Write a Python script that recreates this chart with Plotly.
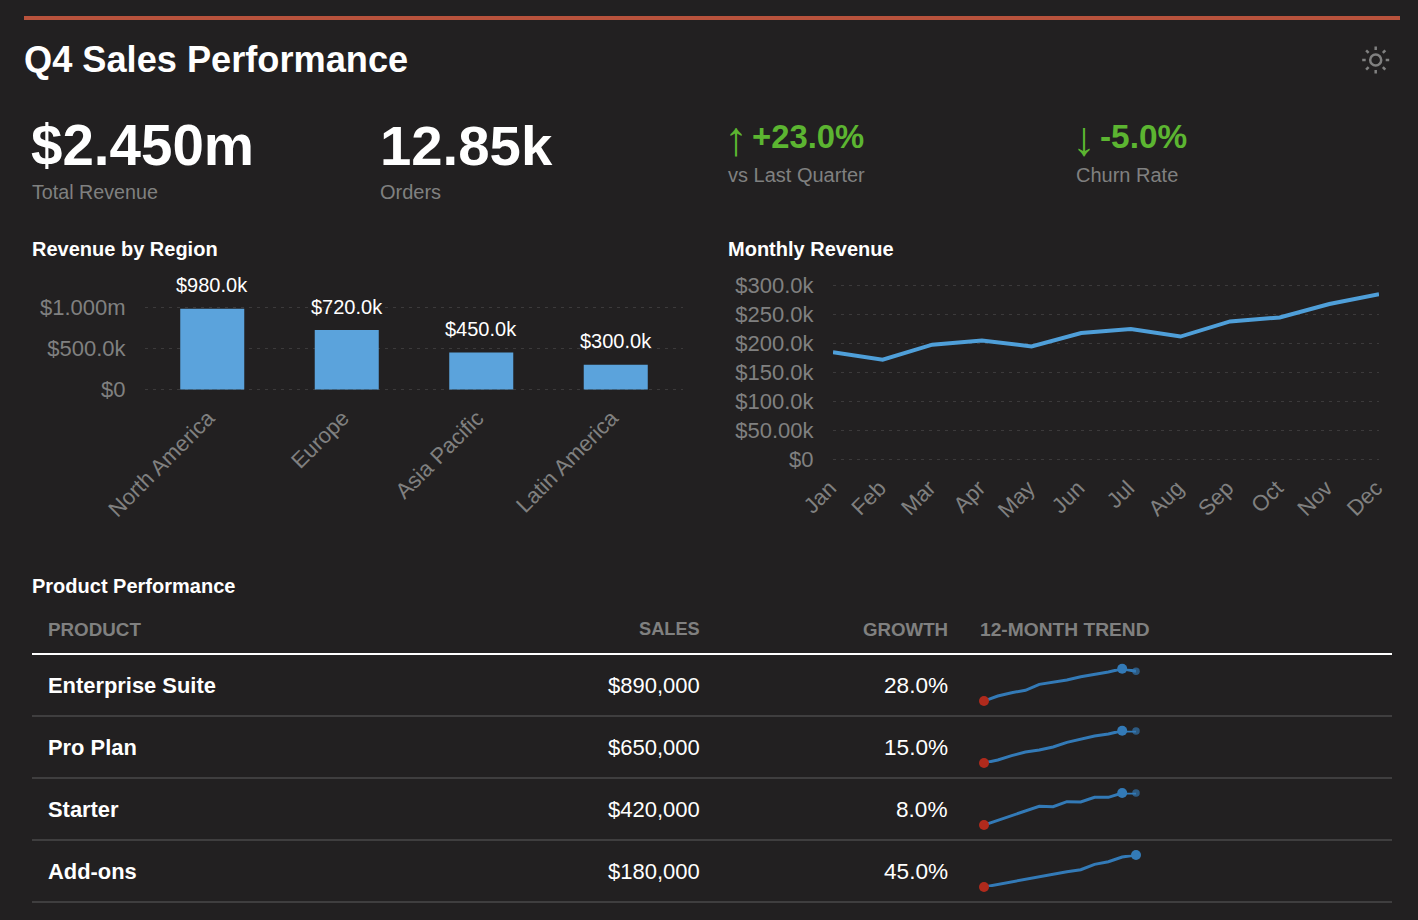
import plotly.graph_objects as go

W, H = 1418, 920
BG = "#222021"
GRAY = "#808080"
GRID = "#3c3a3b"
FONT = "Liberation Sans"

regions = ["North America", "Europe", "Asia Pacific", "Latin America"]
region_revenue = [980000, 720000, 450000, 300000]
region_labels = ["$980.0k", "$720.0k", "$450.0k", "$300.0k"]
region_ticks = [0, 500000, 1000000]
region_ticktext = ["$0", "$500.0k", "$1.000m"]

months = ["Jan", "Feb", "Mar", "Apr", "May", "Jun", "Jul", "Aug", "Sep", "Oct", "Nov", "Dec"]
monthly_revenue = [185000, 172000, 198000, 205000, 195000, 218000, 225000, 212000, 238000, 245000, 268000, 285000]
monthly_ticks = [0, 50000, 100000, 150000, 200000, 250000, 300000]
monthly_ticktext = ["$0", "$50.00k", "$100.0k", "$150.0k", "$200.0k", "$250.0k", "$300.0k"]

products = ["Enterprise Suite", "Pro Plan", "Starter", "Add-ons"]
sales = ["$890,000", "$650,000", "$420,000", "$180,000"]
growth = ["28.0%", "15.0%", "8.0%", "45.0%"]
trend_enterprise = [0, 15, 25, 32, 50, 56, 63, 73, 80, 87, 97, 89]
trend_pro = [0, 9, 22, 33, 39, 48, 62, 72, 81, 87, 97, 96]
trend_starter = [0, 14, 28, 42, 56, 55, 70, 69, 83, 83, 96, 96]
trend_addons = [0, 8, 16, 24, 32, 40, 46, 52, 68, 76, 90, 96]
trends = [trend_enterprise, trend_pro, trend_starter, trend_addons]
headers = ["PRODUCT", "SALES", "GROWTH", "12-MONTH TREND"]


def px(x):
    return x / W


def py(y):
    return 1 - y / H


fig = go.Figure()

fig.add_trace(go.Bar(
    x=regions, y=region_revenue, cliponaxis=False,
    marker=dict(color="#5ba3dc", line=dict(width=0)), xaxis="x", yaxis="y", hoverinfo="skip",
))
fig.add_trace(go.Scatter(
    x=months, y=monthly_revenue, mode="lines", line=dict(color="#4f9fd9", width=4),
    xaxis="x2", yaxis="y2", hoverinfo="skip", cliponaxis=False,
))

layout = {}
dash = "3px,5px"
pad1 = 24000
pad2 = 3450
layout["xaxis"] = dict(domain=[px(145), px(683)], range=[-0.5, 3.5], type="category", anchor="y", automargin=False,
                       tickangle=-45, ticks="outside", ticklen=4, tickcolor=BG, ticklabelshift=-4, showgrid=False,
                       showline=False, zeroline=False, tickfont=dict(size=22, color=GRAY, family=FONT))
layout["yaxis"] = dict(domain=[py(389.5 + pad1 * 82.5 / 1e6), py(307 - pad1 * 82.5 / 1e6)],
                       range=[-pad1, 1000000 + pad1], anchor="x", tickvals=region_ticks, automargin=False,
                       ticktext=region_ticktext, ticks="outside", ticklen=14, tickcolor=BG, showgrid=True,
                       gridcolor=GRID, griddash=dash, gridwidth=1, zeroline=False, showline=False,
                       tickfont=dict(size=22, color=GRAY, family=FONT))
layout["xaxis2"] = dict(domain=[px(833), px(1379)], range=[0, 11], type="category", anchor="y2", automargin=False,
                        tickangle=-45, ticks="outside", ticklen=4, tickcolor=BG, ticklabelshift=-3, showgrid=False,
                        showline=False, zeroline=False, tickfont=dict(size=22, color=GRAY, family=FONT))
layout["yaxis2"] = dict(domain=[py(459.5 + pad2 * 174 / 3e5), py(285.5 - pad2 * 174 / 3e5)],
                        range=[-pad2, 300000 + pad2], anchor="x2", tickvals=monthly_ticks, automargin=False,
                        ticktext=monthly_ticktext, ticks="outside", ticklen=14, tickcolor=BG, showgrid=True,
                        gridcolor=GRID, griddash=dash, gridwidth=1, zeroline=False, showline=False,
                        tickfont=dict(size=22, color=GRAY, family=FONT))

row_centers = [685, 747, 809, 871]
for i, values in enumerate(trends):
    n = i + 3
    base = row_centers[i] + 16
    xs = list(range(len(values)))
    lo = values.index(min(values))
    hi = values.index(max(values))
    last = len(values) - 1
    fig.add_trace(go.Scatter(x=xs, y=values, mode="lines", line=dict(color="#337ab7", width=3),
                             xaxis=f"x{n}", yaxis=f"y{n}", hoverinfo="skip"))
    if hi != last:
        fig.add_trace(go.Scatter(x=[last], y=[values[last]], mode="markers", cliponaxis=False,
                                 marker=dict(color="#337ab7", size=7.5, opacity=0.65, line=dict(width=0)),
                                 xaxis=f"x{n}", yaxis=f"y{n}", hoverinfo="skip"))
    fig.add_trace(go.Scatter(x=[lo, hi], y=[values[lo], values[hi]], mode="markers", cliponaxis=False,
                             marker=dict(color=["#b02a1c", "#337ab7"], size=10, line=dict(width=0)),
                             xaxis=f"x{n}", yaxis=f"y{n}", hoverinfo="skip"))
    layout[f"xaxis{n}"] = dict(domain=[px(984), px(1136)], range=[0, last], visible=False, anchor=f"y{n}",
                               automargin=False)
    layout[f"yaxis{n}"] = dict(domain=[py(base), py(base - 32.3)], range=[0, 97], visible=False, anchor=f"x{n}",
                               automargin=False)


def text(x, y, s, size, color, bold=False, xanchor="left"):
    return dict(x=px(x), y=py(y), xref="paper", yref="paper", text=f"<b>{s}</b>" if bold else s,
                showarrow=False, xanchor=xanchor, yanchor="middle", xshift=0, yshift=0,
                align=xanchor, borderpad=0, borderwidth=0,
                font=dict(size=size, color=color, family=FONT))


GREEN = "#5cb531"
ann = [
    text(24, 60, "Q4 Sales Performance", 36.2, "#ffffff", True),
    text(31, 145, "$2.450m", 56.5, "#ffffff", True),
    text(380, 145, "12.85k", 56.3, "#ffffff", True),
    text(32, 192, "Total Revenue", 19.7, GRAY),
    text(380, 192, "Orders", 20, GRAY),
    text(736, 138, "↑", 48, GREEN, False, "center"),
    text(752, 136, "+23.0%", 32.8, GREEN, True),
    text(728, 175, "vs Last Quarter", 20, GRAY),
    text(1084, 138, "↓", 48, GREEN, False, "center"),
    text(1100, 136, "-5.0%", 33.4, GREEN, True),
    text(1076, 175, "Churn Rate", 20, GRAY),
    text(32, 249, "Revenue by Region", 20, "#ffffff", True),
    text(728, 249, "Monthly Revenue", 20, "#ffffff", True),
    text(32, 586, "Product Performance", 20, "#ffffff", True),
    text(48, 629, headers[0], 18.8, GRAY, True),
    text(700, 629, headers[1], 18.2, GRAY, True, "right"),
    text(948, 629, headers[2], 18.7, GRAY, True, "right"),
    text(980, 629, headers[3], 19.2, GRAY, True),
]
for i, yc in enumerate(row_centers):
    ann.append(text(48, yc, products[i], 21.9, "#ffffff", True))
    ann.append(text(700, yc, sales[i], 22, "#ffffff", False, "right"))
    ann.append(text(947.5, yc, growth[i], 22.6, "#ffffff", False, "right"))
for name, value, label in zip(regions, region_revenue, region_labels):
    ann.append(dict(x=name, y=value, xref="x", yref="y", text=label, showarrow=False, yanchor="middle",
                    xanchor="center", yshift=23.5, font=dict(size=20, color="#ffffff", family=FONT)))


def rect(x0, y0, x1, y1, color):
    return dict(type="rect", xref="paper", yref="paper", x0=px(x0), x1=px(x1), y0=py(y0), y1=py(y1),
                fillcolor=color, line=dict(width=0), layer="below")


shapes = [rect(24, 16, 1400, 20, "#b8523c"), rect(32, 653, 1392, 655, "#ffffff")]
for yl in [716, 778, 840, 902]:
    shapes.append(rect(32, yl - 1, 1392, yl + 1, "#3f3e3f"))

# settings icon: sun
cx, cy = 1375.7, 60
ICON = "#808080"
shapes.append(dict(type="circle", xref="paper", yref="paper", x0=px(cx - 5.5), x1=px(cx + 5.5), y0=py(cy + 5.5),
                   y1=py(cy - 5.5), line=dict(color=ICON, width=2.5)))
rays = [(0, -1), (0.71, -0.71), (1, 0), (0.71, 0.71), (0, 1), (-0.71, 0.71), (-1, 0), (-0.71, -0.71)]
for dx, dy in rays:
    shapes.append(dict(type="line", xref="paper", yref="paper", x0=px(cx + dx * 10), x1=px(cx + dx * 13.5),
                       y0=py(cy + dy * 10), y1=py(cy + dy * 13.5), line=dict(color=ICON, width=2.5)))

fig.update_layout(
    width=W, height=H, margin=dict(l=0, r=0, t=0, b=0), paper_bgcolor=BG, plot_bgcolor=BG,
    showlegend=False, bargap=0.524, annotations=ann, shapes=shapes,
    font=dict(family=FONT), **layout,
)
fig.write_html("out.html", config={"displayModeBar": False},
               post_script="document.body.style.margin='0';document.body.style.background='#222021';")
